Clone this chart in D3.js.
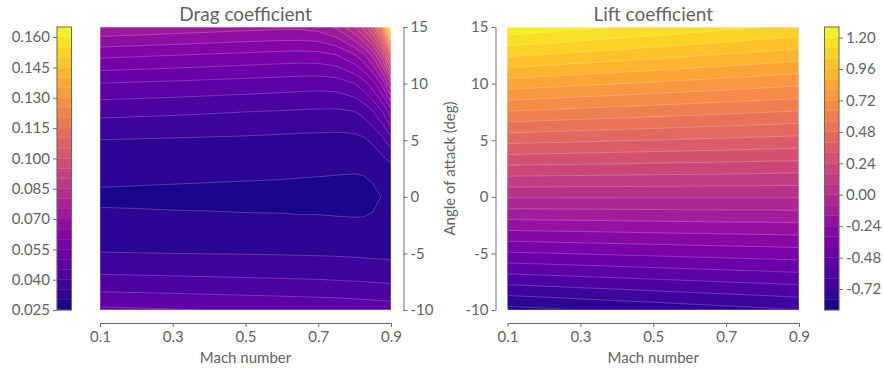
<!DOCTYPE html>
<html>
<head>
<meta charset="utf-8">
<script src="https://cdn.jsdelivr.net/npm/d3@7"></script>
<style>
  body { margin: 0; background: #fff; }
  text { font-family: Lato, "DejaVu Sans", sans-serif; fill: #636363; }
  .axis path, .axis line { stroke: #6e6e6e; }
</style>
</head>
<body>
<svg id="chart" width="884" height="368"></svg>
<script>
// Angle of attack grid (rows), shared by both panels
const alphaGrid = [-10, -7.5, -5, -2.5, 0, 2.5, 5, 7.5, 10, 12.5, 15];

// Drag coefficient, columns = Mach (denser near the drag rise)
const dragMach = [0.1, 0.2, 0.3, 0.4, 0.5, 0.6, 0.65, 0.7, 0.75, 0.8, 0.825, 0.85, 0.875, 0.9];
const dragValues = [
  [0.0510, 0.0507, 0.0503, 0.0499, 0.0495, 0.0491, 0.0489, 0.0487, 0.0485, 0.0482, 0.0480, 0.0478, 0.0476, 0.0474],
  [0.0417, 0.0415, 0.0413, 0.0411, 0.0409, 0.0407, 0.0406, 0.0405, 0.0403, 0.0401, 0.0400, 0.0398, 0.0397, 0.0395],
  [0.0352, 0.0351, 0.0350, 0.0349, 0.0348, 0.0347, 0.0346, 0.0345, 0.0344, 0.0342, 0.0341, 0.0339, 0.0338, 0.0337],
  [0.0310, 0.0310, 0.0309, 0.0309, 0.0308, 0.0308, 0.0307, 0.0307, 0.0306, 0.0305, 0.0305, 0.0307, 0.0311, 0.0316],
  [0.0294, 0.0293, 0.0292, 0.0291, 0.0290, 0.0289, 0.0288, 0.0288, 0.0287, 0.0287, 0.0288, 0.0292, 0.0301, 0.0312],
  [0.0312, 0.0311, 0.0310, 0.0309, 0.0308, 0.0307, 0.0306, 0.0305, 0.0304, 0.0303, 0.0304, 0.0309, 0.0318, 0.0333],
  [0.0349, 0.0347, 0.0345, 0.0343, 0.0341, 0.0338, 0.0336, 0.0335, 0.0334, 0.0335, 0.0342, 0.0358, 0.0385, 0.0430],
  [0.0414, 0.0411, 0.0408, 0.0404, 0.0400, 0.0396, 0.0394, 0.0392, 0.0391, 0.0398, 0.0415, 0.0445, 0.0495, 0.0580],
  [0.0498, 0.0494, 0.0490, 0.0485, 0.0480, 0.0475, 0.0472, 0.0470, 0.0474, 0.0500, 0.0530, 0.0580, 0.0660, 0.0800],
  [0.0611, 0.0606, 0.0600, 0.0594, 0.0588, 0.0582, 0.0580, 0.0582, 0.0598, 0.0645, 0.0690, 0.0760, 0.0880, 0.1100],
  [0.0745, 0.0738, 0.0731, 0.0724, 0.0717, 0.0712, 0.0712, 0.0722, 0.0760, 0.0850, 0.0920, 0.1020, 0.1200, 0.1630]
];

// Lift coefficient, columns = Mach
const liftMach = [0.1, 0.2, 0.3, 0.4, 0.5, 0.6, 0.7, 0.8, 0.9];
const liftValues = [
  [-0.826, -0.813, -0.799, -0.786, -0.773, -0.760, -0.748, -0.735, -0.722],
  [-0.618, -0.608, -0.597, -0.588, -0.578, -0.568, -0.558, -0.550, -0.540],
  [-0.409, -0.403, -0.396, -0.389, -0.383, -0.376, -0.370, -0.364, -0.358],
  [-0.201, -0.197, -0.194, -0.191, -0.187, -0.184, -0.181, -0.179, -0.175],
  [ 0.008,  0.008,  0.008,  0.008,  0.008,  0.008,  0.008,  0.007,  0.007],
  [ 0.217,  0.213,  0.210,  0.207,  0.203,  0.200,  0.197,  0.193,  0.189],
  [ 0.425,  0.419,  0.412,  0.405,  0.399,  0.392,  0.386,  0.378,  0.372],
  [ 0.634,  0.624,  0.613,  0.604,  0.594,  0.584,  0.574,  0.564,  0.554],
  [ 0.842,  0.829,  0.815,  0.802,  0.789,  0.776,  0.763,  0.749,  0.736],
  [ 1.051,  1.034,  1.017,  1.001,  0.984,  0.968,  0.952,  0.935,  0.918],
  [ 1.259,  1.240,  1.219,  1.199,  1.180,  1.160,  1.141,  1.120,  1.101]
];

// Contour levels and colorbar ticks
const dragLevels = d3.range(29).map(i => +(0.025 + i * 0.005).toFixed(3));
const liftLevels = d3.range(28).map(i => +(-0.88 + i * 0.08).toFixed(2));
const dragTicks = [0.025, 0.040, 0.055, 0.070, 0.085, 0.100, 0.115, 0.130, 0.145, 0.160];
const liftTicks = [-0.72, -0.48, -0.24, 0.00, 0.24, 0.48, 0.72, 0.96, 1.20];
const machTicks = [0.1, 0.3, 0.5, 0.7, 0.9];
const alphaTicks = [-10, -5, 0, 5, 10, 15];

const svg = d3.select('#chart');
const fmt = d3.formatLocale({ decimal: '.', thousands: ',', grouping: [3], currency: ['', ''], minus: '-' }).format;

const plotTop = 27, plotBottom = 310;
const y = d3.scaleLinear().domain([-10, 15]).range([plotBottom, plotTop]);
const cb = d3.scaleLinear().range([plotBottom, plotTop]);

function styleAxis(g) {
  g.attr('font-size', null).attr('font-family', null);
  g.selectAll('text').attr('font-size', 15);
}

// Draw one filled contour panel
function drawPanel(id, x, mach, values, levels) {
  const nx = mach.length, ny = alphaGrid.length;
  const mi = d3.scaleLinear().domain(d3.range(nx)).range(mach);
  const ai = d3.scaleLinear().domain(d3.range(ny)).range(alphaGrid);
  const clampX = v => Math.max(0, Math.min(nx - 1, v - 0.5));
  const clampY = v => Math.max(0, Math.min(ny - 1, v - 0.5));
  const path = d3.geoPath(d3.geoTransform({
    point(px, py) { this.stream.point(x(mi(clampX(px))), y(ai(clampY(py)))); }
  }));

  const flat = values.flat();
  const thresholds = levels.slice(0, -1);
  const contours = d3.contours().size([nx, ny]).thresholds(thresholds)(flat);
  const nb = levels.length - 1;
  const color = k => d3.interpolatePlasma((k + 0.5) / nb);

  const [x0, x1] = x.range();
  svg.append('clipPath').attr('id', id)
    .append('rect').attr('x', x0 + 0.8).attr('y', plotTop + 0.8)
    .attr('width', x1 - x0 - 1.6).attr('height', plotBottom - plotTop - 1.6);

  const g = svg.append('g');
  g.selectAll('path.fill')
    .data(contours)
    .join('path')
    .attr('class', 'fill')
    .attr('d', path)
    .attr('fill-rule', 'evenodd')
    .attr('fill', (d, i) => color(i));

  g.append('g').attr('clip-path', `url(#${id})`)
    .selectAll('path')
    .data(contours.slice(1))
    .join('path')
    .attr('d', path)
    .attr('fill', 'none')
    .attr('stroke', '#fff')
    .attr('stroke-opacity', 0.35)
    .attr('stroke-width', 0.6);

  g.append('rect')
    .attr('x', x0).attr('y', plotTop)
    .attr('width', x1 - x0).attr('height', plotBottom - plotTop)
    .attr('fill', 'none')
    .attr('stroke', '#fff').attr('stroke-opacity', 0.35).attr('stroke-width', 1);
}

// Draw one colorbar
function drawColorbar(x0, width, levels, ticks, side, format) {
  const s = cb.copy().domain([levels[0], levels[levels.length - 1]]);
  const nb = levels.length - 1;
  const g = svg.append('g');
  g.selectAll('rect.band')
    .data(d3.range(nb))
    .join('rect')
    .attr('x', x0).attr('width', width)
    .attr('y', k => s(levels[k + 1]))
    .attr('height', k => s(levels[k]) - s(levels[k + 1]))
    .attr('fill', k => d3.interpolatePlasma((k + 0.5) / nb))
    .attr('stroke', k => d3.interpolatePlasma((k + 0.5) / nb))
    .attr('stroke-width', 0.3);
  g.append('rect')
    .attr('x', x0).attr('y', plotTop).attr('width', width).attr('height', plotBottom - plotTop)
    .attr('fill', 'none').attr('stroke', '#6b6b5f').attr('stroke-width', 1);

  const axis = side === 'left' ? d3.axisLeft(s) : d3.axisRight(s);
  svg.append('g').attr('class', 'axis')
    .attr('transform', `translate(${side === 'left' ? x0 : x0 + width},0)`)
    .call(axis.tickValues(ticks).tickFormat(format).tickSize(4).tickPadding(3))
    .call(g => g.select('.domain').remove())
    .call(styleAxis);
}

const xLeft = d3.scaleLinear().domain([0.1, 0.9]).range([100, 391]);
const xRight = d3.scaleLinear().domain([0.1, 0.9]).range([507.5, 799]);

drawPanel('clipDrag', xLeft, dragMach, dragValues, dragLevels);
drawPanel('clipLift', xRight, liftMach, liftValues, liftLevels);

drawColorbar(57, 14.5, dragLevels, dragTicks, 'left', fmt('.3f'));
drawColorbar(824.5, 14.5, liftLevels, liftTicks, 'right', fmt('.2f'));

// x axes
[xLeft, xRight].forEach(x => {
  svg.append('g').attr('class', 'axis')
    .attr('transform', 'translate(0,323)')
    .call(d3.axisBottom(x).tickValues(machTicks).tickFormat(fmt('.1f'))
      .tickSize(4).tickSizeOuter(0).tickPadding(4))
    .call(styleAxis);
  const r = x.range();
  svg.append('text')
    .attr('x', (r[0] + r[1]) / 2).attr('y', 363)
    .attr('text-anchor', 'middle').attr('font-size', 15)
    .text('Mach number');
});

// y axes
svg.append('g').attr('class', 'axis')
  .attr('transform', 'translate(403.5,0)')
  .call(d3.axisRight(y).tickValues(alphaTicks).tickSize(4).tickSizeOuter(0).tickPadding(3).tickFormat(fmt('d')))
  .call(styleAxis);
svg.append('g').attr('class', 'axis')
  .attr('transform', 'translate(495.5,0)')
  .call(d3.axisLeft(y).tickValues(alphaTicks).tickSize(4).tickSizeOuter(0).tickPadding(3).tickFormat(fmt('d')))
  .call(styleAxis);

svg.append('text')
  .attr('transform', `translate(455,${(plotTop + plotBottom) / 2}) rotate(-90)`)
  .attr('text-anchor', 'middle').attr('font-size', 15)
  .text('Angle of attack (deg)');

// titles
svg.append('text')
  .attr('x', (100 + 391) / 2).attr('y', 21)
  .attr('text-anchor', 'middle').attr('font-size', 19)
  .text('Drag coefficient');
svg.append('text')
  .attr('x', (507.5 + 799) / 2).attr('y', 21)
  .attr('text-anchor', 'middle').attr('font-size', 19)
  .text('Lift coefficient');
</script>
</body>
</html>
